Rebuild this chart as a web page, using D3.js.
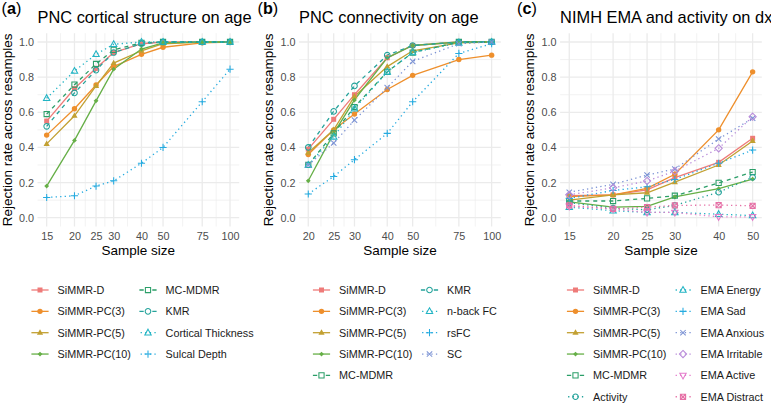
<!DOCTYPE html>
<html><head><meta charset="utf-8">
<script src="https://cdn.jsdelivr.net/npm/d3@7"></script>
<style>
body{margin:0;background:#fff}
svg{display:block}
text{font-family:"Liberation Sans",Arial,Helvetica,sans-serif}
</style>
</head><body>
<svg id="chart" width="771" height="403"></svg>
<script>
// ---------------- data ----------------
const sizesA = [15, 20, 25, 30, 40, 50, 75, 100];
const sizesB = [20, 25, 30, 40, 50, 75, 100];
const sizesC = [15, 20, 25, 30, 40, 50];

const ticksA = [15, 20, 25, 30, 40, 50, 75, 100];
const ticksB = [20, 25, 30, 40, 50, 75, 100];
const ticksC = [15, 20, 25, 30, 40, 50];
const yTicks = [0, 0.2, 0.4, 0.6, 0.8, 1.0];

const titles = ["PNC cortical structure on age", "PNC connectivity on age", "NIMH EMA and activity on dx"];
const tags = ["a", "b", "c"];

// (a) PNC cortical structure on age
const namesA = ["SiMMR-D", "SiMMR-PC(3)", "SiMMR-PC(5)", "SiMMR-PC(10)", "MC-MDMR", "KMR", "Cortical Thickness", "Sulcal Depth"];
const a_SiMMR_D   = [0.55, 0.735, 0.85, 0.94, 0.99, 1.0, 1.0, 1.0];
const a_SiMMR_PC3 = [0.47, 0.62, 0.755, 0.86, 0.93, 0.97, 0.995, 1.0];
const a_SiMMR_PC5 = [0.42, 0.58, 0.75, 0.88, 0.95, 0.99, 1.0, 1.0];
const a_SiMMR_PC10= [0.18, 0.44, 0.665, 0.845, 0.96, 0.995, 1.0, 1.0];
const a_MCMDMR    = [0.59, 0.757, 0.875, 0.955, 0.995, 1.0, 1.0, 1.0];
const a_KMR       = [0.52, 0.71, 0.84, 0.94, 0.99, 1.0, 1.0, 1.0];
const a_Thickness = [0.68, 0.835, 0.93, 0.987, 1.0, 1.0, 1.0, 1.0];
const a_Sulcal    = [0.115, 0.125, 0.18, 0.21, 0.31, 0.40, 0.66, 0.845];

// (b) PNC connectivity on age
const namesB = ["SiMMR-D", "SiMMR-PC(3)", "SiMMR-PC(5)", "SiMMR-PC(10)", "MC-MDMR", "KMR", "n-back FC", "rsFC", "SC"];
const b_SiMMR_D   = [0.39, 0.56, 0.70, 0.91, 0.98, 1.0, 1.0];
const b_SiMMR_PC3 = [0.36, 0.50, 0.59, 0.73, 0.81, 0.90, 0.925];
const b_SiMMR_PC5 = [0.37, 0.50, 0.69, 0.86, 0.95, 0.995, 1.0];
const b_SiMMR_PC10= [0.21, 0.48, 0.67, 0.91, 0.98, 1.0, 1.0];
const b_MCMDMR    = [0.30, 0.48, 0.63, 0.83, 0.94, 1.0, 1.0];
const b_KMR       = [0.40, 0.605, 0.75, 0.925, 0.98, 1.0, 1.0];
const b_nbackFC   = [0.30, 0.46, 0.62, 0.83, 0.94, 0.995, 1.0];
const b_rsFC      = [0.135, 0.235, 0.33, 0.48, 0.66, 0.935, 0.99];
const b_SC        = [0.30, 0.425, 0.555, 0.74, 0.89, 0.99, 1.0];

// (c) NIMH EMA and activity on dx
const namesC = ["SiMMR-D", "SiMMR-PC(3)", "SiMMR-PC(5)", "SiMMR-PC(10)", "MC-MDMR", "Activity", "EMA Energy", "EMA Sad", "EMA Anxious", "EMA Irritable", "EMA Active", "EMA Distract"];
const c_SiMMR_D   = [0.125, 0.13, 0.158, 0.228, 0.315, 0.452];
const c_SiMMR_PC3 = [0.12, 0.13, 0.167, 0.247, 0.50, 0.83];
const c_SiMMR_PC5 = [0.10, 0.13, 0.142, 0.202, 0.30, 0.437];
const c_SiMMR_PC10= [0.09, 0.06, 0.065, 0.118, 0.165, 0.22];
const c_MCMDMR    = [0.095, 0.095, 0.11, 0.125, 0.198, 0.26];
const c_Activity  = [0.085, 0.055, 0.045, 0.07, 0.145, 0.23];
const c_Energy    = [0.06, 0.04, 0.03, 0.03, 0.02, 0.012];
const c_Sad       = [0.11, 0.155, 0.176, 0.218, 0.31, 0.385];
const c_Anxious   = [0.145, 0.19, 0.243, 0.277, 0.448, 0.566];
const c_Irritable = [0.13, 0.17, 0.209, 0.265, 0.395, 0.575];
const c_Active    = [0.065, 0.05, 0.03, 0.03, 0.005, 0.005];
const c_Distract  = [0.07, 0.05, 0.06, 0.07, 0.072, 0.068];

// ---------------- styles ----------------
const colorOf = {
  "SiMMR-D": "#EE7B79", "SiMMR-PC(3)": "#EE8F2C", "SiMMR-PC(5)": "#C2A032", "SiMMR-PC(10)": "#66AF47",
  "MC-MDMR": "#2B9E68", "KMR": "#25A39B", "Activity": "#25A39B",
  "Cortical Thickness": "#22B4C4", "n-back FC": "#22B4C4", "EMA Energy": "#22B4C4",
  "Sulcal Depth": "#25ABE0", "rsFC": "#25ABE0", "EMA Sad": "#25ABE0",
  "SC": "#7B92D4", "EMA Anxious": "#7B92D4", "EMA Irritable": "#B88AD9",
  "EMA Active": "#E47BCB", "EMA Distract": "#E670A6"
};
const shapeOf = {
  "SiMMR-D": "sqF", "SiMMR-PC(3)": "cirF", "SiMMR-PC(5)": "triF", "SiMMR-PC(10)": "diaF",
  "MC-MDMR": "sqO", "KMR": "cirO", "Activity": "cirO",
  "Cortical Thickness": "triO", "n-back FC": "triO", "EMA Energy": "triO",
  "Sulcal Depth": "plus", "rsFC": "plus", "EMA Sad": "plus",
  "SC": "cross", "EMA Anxious": "cross", "EMA Irritable": "diaO",
  "EMA Active": "triD", "EMA Distract": "sqX"
};
function dashOf(name) {
  if (name.startsWith("SiMMR")) return null;
  if (name === "MC-MDMR" || name === "KMR") return "4,4";
  return "1.3,3.2";
}

const panels = [
  { sizes: sizesA, ticks: ticksA, names: namesA,
    values: [a_SiMMR_D, a_SiMMR_PC3, a_SiMMR_PC5, a_SiMMR_PC10, a_MCMDMR, a_KMR, a_Thickness, a_Sulcal],
    left: 37.5, tagX: 1.5, yTitleX: 7.5, legX: [40, 148], rows: 4 },
  { sizes: sizesB, ticks: ticksB, names: namesB,
    values: [b_SiMMR_D, b_SiMMR_PC3, b_SiMMR_PC5, b_SiMMR_PC10, b_MCMDMR, b_KMR, b_nbackFC, b_rsFC, b_SC],
    left: 299.1, tagX: 257.5, yTitleX: 268, legX: [321.5, 429.5], rows: 5 },
  { sizes: sizesC, ticks: ticksC, names: namesC,
    values: [c_SiMMR_D, c_SiMMR_PC3, c_SiMMR_PC5, c_SiMMR_PC10, c_MCMDMR, c_Activity, c_Energy, c_Sad, c_Anxious, c_Irritable, c_Active, c_Distract],
    left: 560.1, tagX: 517, yTitleX: 529, legX: [575.5, 683], rows: 6 }
];

// ---------------- drawing ----------------
const svg = d3.select("#chart");
const panelW = 201.7, panelTop = 33.2, panelBottom = 226.5;
const gridCol = "#EBEBEB";
const txtGrey = "#4D4D4D";

function shapePath(t) {
  const r = 2.5;
  switch (t) {
    case "sqF": return `M${-r},${-r}h${2*r}v${2*r}h${-2*r}Z`;
    case "cirF": return d3.symbol(d3.symbolCircle, Math.PI*2.7*2.7)();
    case "triF": { const s = 3.1; return `M0,${-s*1.1}L${s},${s*0.65}L${-s},${s*0.65}Z`; }
    case "diaF": { const s = 2.4; return `M0,${-s}L${s},0L0,${s}L${-s},0Z`; }
    case "sqO": { const s = 2.6; return `M${-s},${-s}h${2*s}v${2*s}h${-2*s}Z`; }
    case "cirO": { const s = 2.8; return `M${-s},0a${s},${s} 0 1,0 ${2*s},0a${s},${s} 0 1,0 ${-2*s},0Z`; }
    case "triO": { const s = 3.2; return `M0,${-s*1.1}L${s},${s*0.7}L${-s},${s*0.7}Z`; }
    case "triD": { const s = 3.2; return `M0,${s*1.1}L${s},${-s*0.7}L${-s},${-s*0.7}Z`; }
    case "plus": { const s = 3.6; return `M${-s},0H${s}M0,${-s}V${s}`; }
    case "cross": { const s = 2.7; return `M${-s},${-s}L${s},${s}M${-s},${s}L${s},${-s}`; }
    case "diaO": { const s = 3.6; return `M0,${-s}L${s},0L0,${s}L${-s},0Z`; }
    case "sqX": { const s = 2.6; return `M${-s},${-s}h${2*s}v${2*s}h${-2*s}ZM${-s},${-s}L${s},${s}M${-s},${s}L${s},${-s}`; }
  }
}
function isFilled(t) { return t === "sqF" || t === "cirF" || t === "triF" || t === "diaF"; }

function drawPoint(g, x, y, name) {
  const t = shapeOf[name], c = colorOf[name];
  g.append("path").attr("d", shapePath(t)).attr("transform", `translate(${x},${y})`)
    .attr("fill", isFilled(t) ? c : "none")
    .attr("stroke", isFilled(t) ? "none" : c)
    .attr("stroke-width", isFilled(t) ? 0 : 1.05);
}

panels.forEach((p, pi) => {
  const lo = Math.log(p.ticks[0]), hi = Math.log(p.ticks[p.ticks.length - 1]);
  const ex = 0.05 * (hi - lo);
  const x = d3.scaleLog().domain([Math.exp(lo - ex), Math.exp(hi + ex)]).range([p.left, p.left + panelW]);
  const y = d3.scaleLinear().domain([-0.05, 1.05]).range([panelBottom, panelTop]);
  const g = svg.append("g");

  // minor gridlines
  const minorX = [];
  for (let i = 0; i < p.ticks.length - 1; i++) minorX.push(Math.sqrt(p.ticks[i] * p.ticks[i + 1]));
  const minorY = [0.1, 0.3, 0.5, 0.7, 0.9];
  g.selectAll(".mgx").data(minorX).join("line")
    .attr("x1", d => x(d)).attr("x2", d => x(d)).attr("y1", panelTop).attr("y2", panelBottom)
    .attr("stroke", gridCol).attr("stroke-width", 0.65);
  g.selectAll(".mgy").data(minorY).join("line")
    .attr("x1", p.left).attr("x2", p.left + panelW).attr("y1", d => y(d)).attr("y2", d => y(d))
    .attr("stroke", gridCol).attr("stroke-width", 0.65);
  // major gridlines
  g.selectAll(".gx").data(p.ticks).join("line")
    .attr("x1", d => x(d)).attr("x2", d => x(d)).attr("y1", panelTop).attr("y2", panelBottom)
    .attr("stroke", gridCol).attr("stroke-width", 1.3);
  g.selectAll(".gy").data(yTicks).join("line")
    .attr("x1", p.left).attr("x2", p.left + panelW).attr("y1", d => y(d)).attr("y2", d => y(d))
    .attr("stroke", gridCol).attr("stroke-width", 1.3);

  // axes (tick labels only, like theme_minimal)
  const xAxis = d3.axisBottom(x).tickValues(p.ticks).tickFormat(d3.format("d")).tickSize(0).tickPadding(0);
  const gx = g.append("g").attr("transform", `translate(0,${panelBottom + 6})`).call(xAxis);
  gx.select(".domain").remove();
  gx.selectAll("text").attr("fill", txtGrey).attr("font-size", 10.8).attr("dy", "0.71em")
    .attr("font-family", '"Liberation Sans", Arial, sans-serif');
  const yAxis = d3.axisLeft(y).tickValues(yTicks).tickFormat(d3.format(".1f")).tickSize(0).tickPadding(0);
  const gy = g.append("g").attr("transform", `translate(${p.left - 3.5},0)`).call(yAxis);
  gy.select(".domain").remove();
  gy.selectAll("text").attr("fill", txtGrey).attr("font-size", 10.8)
    .attr("font-family", '"Liberation Sans", Arial, sans-serif');

  // axis titles
  g.append("text").attr("x", p.left + panelW / 2).attr("y", 255).attr("text-anchor", "middle")
    .attr("font-size", 13.5).attr("fill", "#000").text("Sample size");
  g.append("text").attr("transform", `translate(${p.yTitleX + 4.5},${(panelTop + panelBottom) / 2}) rotate(-90)`)
    .attr("text-anchor", "middle").attr("font-size", 13.5).attr("fill", "#000")
    .text("Rejection rate across resamples");

  // title and tag
  g.append("text").attr("x", p.left).attr("y", 22.8).attr("font-size", 16.4).attr("fill", "#000").text(titles[pi]);
  const tg = g.append("text").attr("x", p.tagX).attr("y", 13.8).attr("font-size", 16.2).attr("fill", "#000");
  tg.append("tspan").text("(");
  tg.append("tspan").attr("font-weight", "bold").text(tags[pi]);
  tg.append("tspan").text(")");

  // lines
  const line = d3.line().x(d => x(d[0])).y(d => y(d[1]));
  p.names.forEach((name, si) => {
    const pts = p.sizes.map((s, k) => [s, p.values[si][k]]);
    const path = g.append("path").attr("d", line(pts)).attr("fill", "none")
      .attr("stroke", colorOf[name]).attr("stroke-width", 1.3);
    const da = dashOf(name);
    if (da) path.attr("stroke-dasharray", da);
  });
  // points
  p.names.forEach((name, si) => {
    p.sizes.forEach((s, k) => drawPoint(g, x(s), y(p.values[si][k]), name));
  });

  // legend
  const rowY0 = 290, rowStep = 21.35;
  p.names.forEach((name, si) => {
    const col = Math.floor(si / p.rows), row = si % p.rows;
    const cx = p.legX[col], cy = rowY0 + row * rowStep;
    const l = g.append("line").attr("x1", cx - 8.6).attr("x2", cx + 8.6).attr("y1", cy).attr("y2", cy)
      .attr("stroke", colorOf[name]).attr("stroke-width", 1.3);
    const da = dashOf(name);
    if (da) {
      if (da === "4,4") l.attr("stroke-dasharray", "4.3,8.6");
      else l.attr("stroke-dasharray", "1.3,3.3").attr("stroke-dashoffset", -1.2);
    }
    drawPoint(g, cx, cy, name);
    g.append("text").attr("x", cx + 17.6).attr("y", cy + 3.9).attr("font-size", 10.8).attr("fill", "#1A1A1A").text(name);
  });
});
</script>
</body></html>
